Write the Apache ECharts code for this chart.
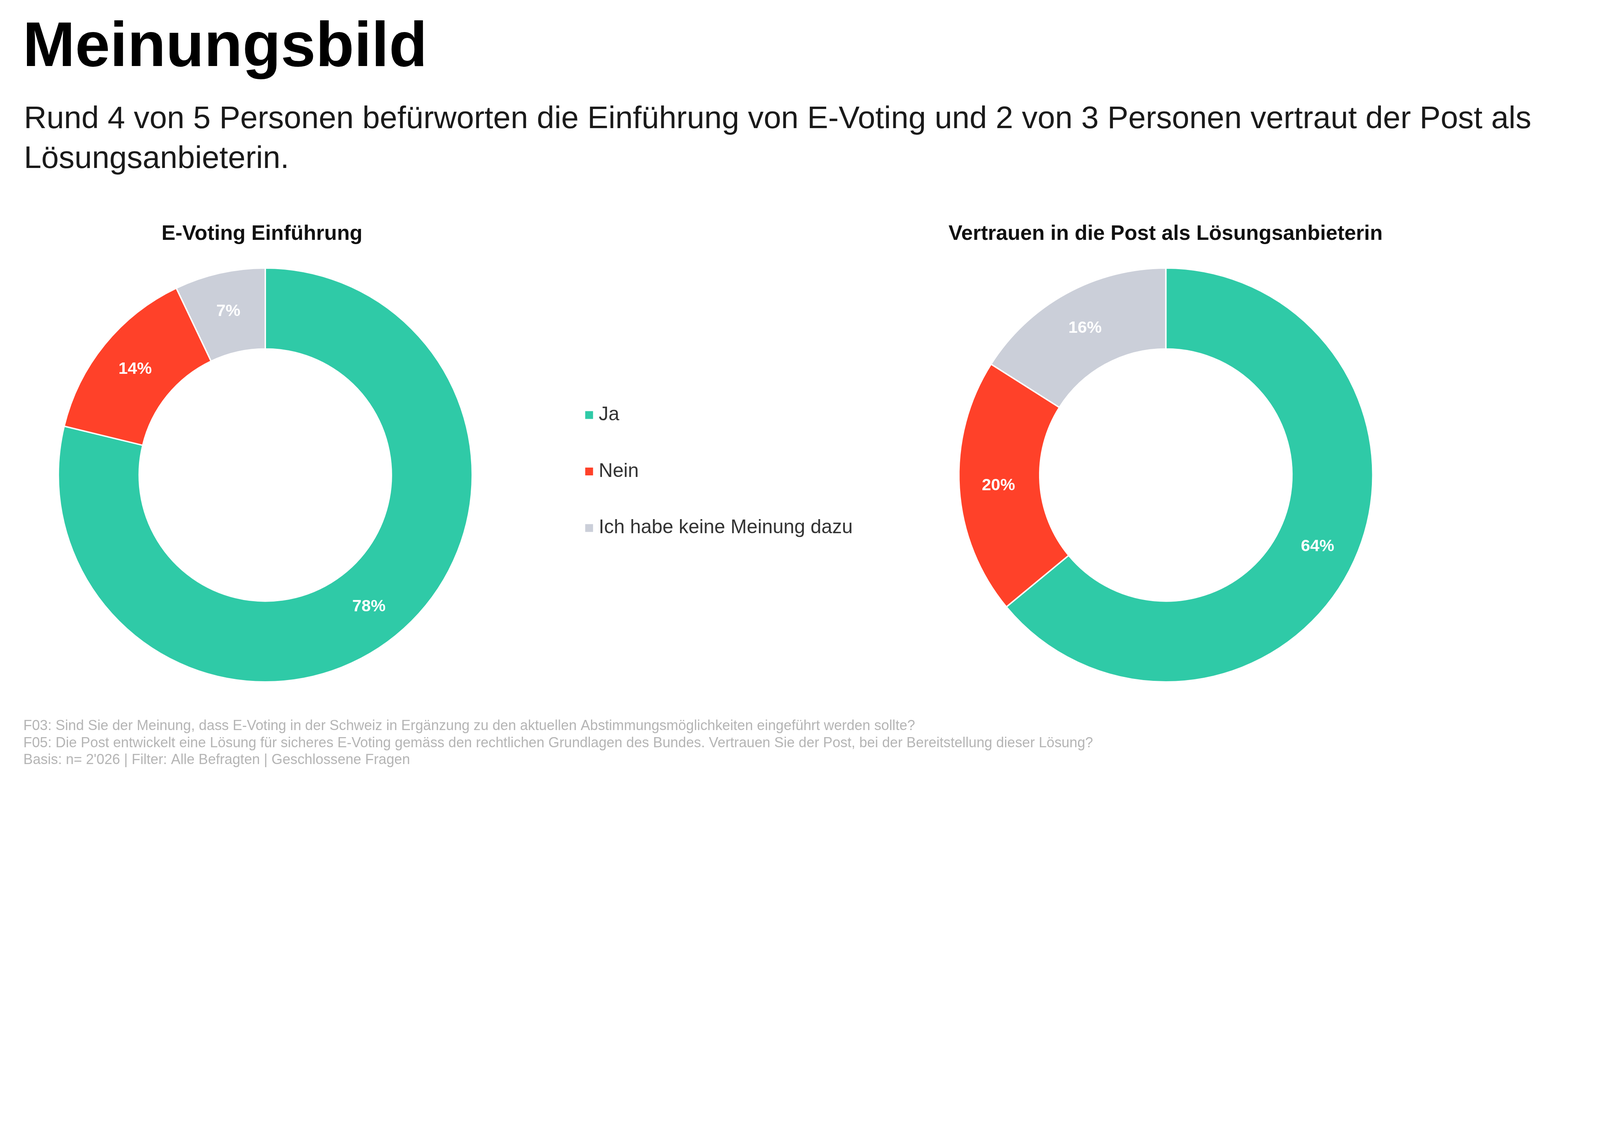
<!DOCTYPE html>
<html>
<head>
<meta charset="utf-8">
<script src="https://cdn.jsdelivr.net/npm/echarts@6/dist/echarts.min.js"></script>
<style>
html,body{margin:0;padding:0;background:#fff;overflow:hidden;}
#main{width:100vw;height:100vh;}
</style>
</head>
<body>
<div id="main"></div>
<script>
const categories = ['Ja', 'Nein', 'Ich habe keine Meinung dazu'];
const eVotingValues = [78, 14, 7];
const vertrauenValues = [64, 20, 16];
const colors = ['#2FCAA7', '#FF4129', '#CBCFD9'];
const mainTitle = 'Meinungsbild';
const subTitle = 'Rund 4 von 5 Personen befürworten die Einführung von E-Voting und 2 von 3 Personen vertraut der Post als\nLösungsanbieterin.';
const chartTitles = ['E-Voting Einführung', 'Vertrauen in die Post als Lösungsanbieterin'];
const footnotes = [
  'F03: Sind Sie der Meinung, dass E-Voting in der Schweiz in Ergänzung zu den aktuellen Abstimmungsmöglichkeiten eingeführt werden sollte?',
  'F05: Die Post entwickelt eine Lösung für sicheres E-Voting gemäss den rechtlichen Grundlagen des Bundes. Vertrauen Sie der Post, bei der Bereitstellung dieser Lösung?',
  "Basis: n= 2'026 | Filter: Alle Befragten | Geschlossene Fragen"
];

const FONT = '"Liberation Sans", Arial, Helvetica, sans-serif';
const el = document.getElementById('main');
// the design is laid out on a 5760-wide frame and scaled to the actual window width
const S = el.clientWidth / 5760;
function p(v) { return v * S; }

function toData(values) {
  return categories.map((name, i) => ({ name: name, value: values[i] }));
}

function pieSeries(values, cx) {
  return {
    type: 'pie',
    center: [p(cx), p(1710)],
    radius: [p(454), p(745)],
    startAngle: 90,
    clockwise: true,
    avoidLabelOverlap: false,
    silent: true,
    itemStyle: { borderColor: '#ffffff', borderWidth: p(5) },
    label: {
      show: true,
      position: 'inside',
      formatter: '{c}%',
      color: '#ffffff',
      fontFamily: FONT,
      fontWeight: 'bold',
      fontSize: p(60)
    },
    labelLine: { show: false },
    emphasis: { disabled: true },
    data: toData(values)
  };
}

const chart = echarts.init(el);
chart.setOption({
  animation: false,
  backgroundColor: '#ffffff',
  color: colors,
  title: [
    {
      text: mainTitle, left: p(82), top: p(62), padding: 0,
      textStyle: { fontFamily: FONT, fontWeight: 'bold', fontSize: p(226), color: '#000000' }
    },
    {
      text: subTitle, left: p(86), top: p(358), padding: 0,
      textStyle: { fontFamily: FONT, fontWeight: 'normal', fontSize: p(113), lineHeight: p(144), color: '#1a1a1a' }
    },
    {
      text: chartTitles[0], left: p(943), top: p(805), padding: 0, textAlign: 'center',
      textStyle: { fontFamily: FONT, fontWeight: 'bold', fontSize: p(75), color: '#111111' }
    },
    {
      text: chartTitles[1], left: p(4196), top: p(805), padding: 0, textAlign: 'center',
      textStyle: { fontFamily: FONT, fontWeight: 'bold', fontSize: p(75), color: '#111111' }
    },
    {
      text: footnotes.join('\n'), left: p(84), top: p(2584), padding: 0,
      textStyle: { fontFamily: FONT, fontWeight: 'normal', fontSize: p(51), lineHeight: p(61), color: '#b5b5b5' }
    }
  ],
  legend: {
    orient: 'vertical',
    left: p(2104),
    top: p(1459),
    padding: 0,
    itemWidth: p(31),
    itemHeight: p(31),
    itemGap: p(133),
    icon: 'rect',
    selectedMode: false,
    data: categories,
    textStyle: { fontFamily: FONT, fontSize: p(70), lineHeight: p(70), color: '#333333', padding: [0, 0, 0, p(12)] }
  },
  series: [
    pieSeries(eVotingValues, 955),
    pieSeries(vertrauenValues, 4197)
  ]
});
</script>
</body>
</html>
